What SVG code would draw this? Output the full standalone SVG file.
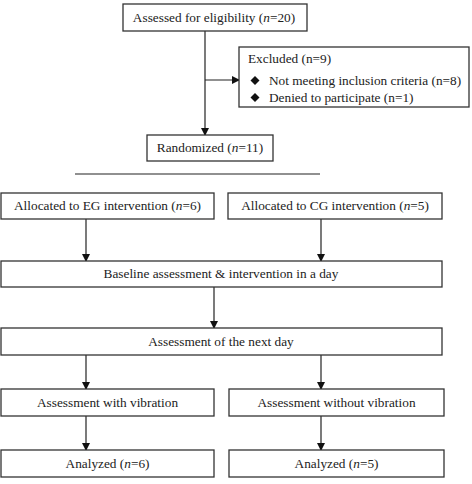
<svg xmlns="http://www.w3.org/2000/svg" width="472" height="484" viewBox="0 0 472 484">
<defs>
<marker id="ah" markerWidth="8" markerHeight="8" refX="7" refY="4" orient="auto" markerUnits="userSpaceOnUse">
<path d="M0,0 L8,4 L0,8 Z" fill="#111"/>
</marker>
<style>
.b{fill:#fff;stroke:#333;stroke-width:1.3}
.t{font-family:"Liberation Serif","Times New Roman",serif;font-size:13.3px;fill:#222}
.c{text-anchor:middle}
.l{stroke:#222;stroke-width:1.2;fill:none}
.a{stroke:#222;stroke-width:1.2;fill:none;marker-end:url(#ah)}
</style>
</defs>
<rect width="472" height="484" fill="#fff"/>
<g id="connectors">
<line class="l" x1="205" y1="31" x2="205" y2="80"/>
<line class="a" x1="205" y1="80" x2="205" y2="135"/>
<line class="a" x1="205" y1="80" x2="239" y2="80"/>
<line class="l" x1="75" y1="174" x2="320" y2="174"/>
<line class="a" x1="86" y1="219" x2="86" y2="261"/>
<line class="a" x1="321" y1="219" x2="321" y2="261"/>
<line class="a" x1="214" y1="287" x2="214" y2="328"/>
<line class="a" x1="86" y1="355" x2="86" y2="389"/>
<line class="a" x1="321" y1="355" x2="321" y2="389"/>
<line class="a" x1="86" y1="416" x2="86" y2="450"/>
<line class="a" x1="321" y1="416" x2="321" y2="450"/>
</g>
<g id="assessed">
<rect class="b" x="123" y="4" width="184" height="27"/>
<text class="t c" x="214" y="22">Assessed for eligibility  (<tspan font-style="italic">n</tspan>=20)</text>
</g>
<g id="excluded">
<rect class="b" x="239" y="47" width="230" height="60"/>
<text class="t" x="248" y="63">Excluded  (n=9)</text>
<path d="M255,76 L259.5,80.5 L255,85 L250.5,80.5 Z" fill="#111"/>
<text class="t" x="269" y="85">Not meeting  inclusion criteria (n=8)</text>
<path d="M255,93 L259.5,97.5 L255,102 L250.5,97.5 Z" fill="#111"/>
<text class="t" x="269" y="102">Denied to participate (n=1)</text>
</g>
<g id="randomized">
<rect class="b" x="147" y="135" width="126" height="26"/>
<text class="t c" x="210" y="152">Randomized  (<tspan font-style="italic">n</tspan>=11)</text>
</g>
<g id="alloc-eg">
<rect class="b" x="1" y="193" width="213" height="26"/>
<text class="t c" x="107.5" y="210">Allocated to EG  intervention (<tspan font-style="italic">n</tspan>=6)</text>
</g>
<g id="alloc-cg">
<rect class="b" x="228" y="193" width="214" height="26"/>
<text class="t c" x="335" y="210">Allocated to CG  intervention (<tspan font-style="italic">n</tspan>=5)</text>
</g>
<g id="baseline">
<rect class="b" x="1" y="261" width="441" height="26"/>
<text class="t c" x="221" y="278">Baseline  assessment &amp; intervention in a day</text>
</g>
<g id="nextday">
<rect class="b" x="1" y="328" width="441" height="27"/>
<text class="t c" x="221" y="346">Assessment of the next day</text>
</g>
<g id="with-vib">
<rect class="b" x="1" y="389" width="213" height="27"/>
<text class="t c" x="107.5" y="407">Assessment with vibration</text>
</g>
<g id="without-vib">
<rect class="b" x="229" y="389" width="215" height="27"/>
<text class="t c" x="336.5" y="407">Assessment without vibration</text>
</g>
<g id="analyzed-eg">
<rect class="b" x="1" y="450" width="213" height="27"/>
<text class="t c" x="107.5" y="468">Analyzed (<tspan font-style="italic">n</tspan>=6)</text>
</g>
<g id="analyzed-cg">
<rect class="b" x="229" y="450" width="215" height="27"/>
<text class="t c" x="336.5" y="468">Analyzed (<tspan font-style="italic">n</tspan>=5)</text>
</g>
</svg>
